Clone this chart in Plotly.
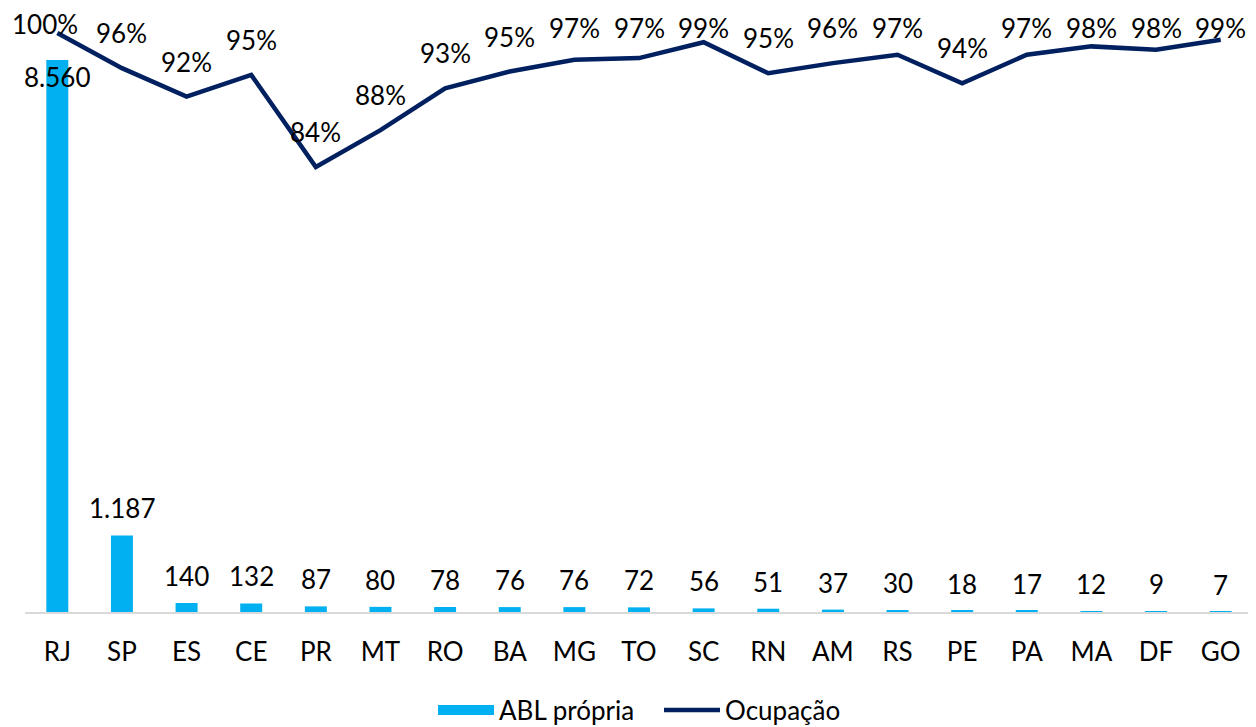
import plotly.graph_objects as go

categories = ["RJ", "SP", "ES", "CE", "PR", "MT", "RO", "BA", "MG", "TO",
              "SC", "RN", "AM", "RS", "PE", "PA", "MA", "DF", "GO"]
abl_propria = [8560, 1187, 140, 132, 87, 80, 78, 76, 76, 72,
               56, 51, 37, 30, 18, 17, 12, 9, 7]
ocupacao = [1.00, 0.958, 0.924, 0.950, 0.840, 0.884, 0.934, 0.954, 0.968, 0.970,
            0.989, 0.952, 0.964, 0.974, 0.940, 0.974, 0.984, 0.980, 0.992]

BAR_COLOR = "#00B0F0"
LINE_COLOR = "#002060"
FONT = "Lato"
FS = 26

# page has an 8px body margin; figure sized so the plot lands where the reference has it
W, H = 1248, 719
L, R, TOP, BOTTOM = 17, 3, 12, 115
PLOT_H = H - TOP - BOTTOM
PLOT_W = W - L - R
Y2_RANGE = [0.3087, 1.0155]
px_per_unit = PLOT_H / (Y2_RANGE[1] - Y2_RANGE[0])

fig = go.Figure()
fig.add_trace(go.Bar(
    x=categories, y=abl_propria, name="ABL própria",
    marker=dict(color=BAR_COLOR, line=dict(width=0)),
    width=0.34, yaxis="y", showlegend=False, legendgroup="abl",
))
# legend-only entry drawn as a wide swatch like the reference
fig.add_trace(go.Scatter(
    x=[None], y=[None], name="ABL própria", mode="lines",
    line=dict(color=BAR_COLOR, width=15), legendgroup="abl",
))
fig.add_trace(go.Scatter(
    x=categories, y=ocupacao, name="Ocupação", mode="lines",
    line=dict(color=LINE_COLOR, width=4.5), yaxis="y2",
))

annotations = []
for i, (c, v) in enumerate(zip(categories, abl_propria)):
    txt = f"{v:,}".replace(",", ".")
    annotations.append(dict(
        x=c, y=v, xref="x", yref="y", text=txt, showarrow=False,
        yanchor="middle", yshift=(-17 if i == 0 else 27),
        font=dict(family=FONT, size=FS, color="#000000"),
    ))
for i, (c, v) in enumerate(zip(categories, ocupacao)):
    point_px = TOP + (Y2_RANGE[1] - v) * px_per_unit
    shift = 9 if i == 0 else min(35, point_px - 20)
    annotations.append(dict(
        x=c, y=v, xref="x", yref="y2", text=f"{round(v * 100):d}%",
        showarrow=False, yanchor="middle", yshift=shift, borderpad=0,
        xshift=(-12 if i == 0 else 0),
        font=dict(family=FONT, size=FS, color="#000000"),
    ))

fig.update_layout(
    width=W, height=H,
    margin=dict(l=L, r=R, t=TOP, b=BOTTOM, autoexpand=False),
    paper_bgcolor="white", plot_bgcolor="white",
    font=dict(family=FONT, size=FS, color="#000000"),
    showlegend=True,
    legend=dict(orientation="h", x=(425 - L) / PLOT_W, xanchor="left",
                y=-98 / PLOT_H, yanchor="middle",
                font=dict(family=FONT, size=FS),
                traceorder="normal", itemwidth=56, tracegroupgap=0,
                entrywidth=155, entrywidthmode="pixels"),
    xaxis=dict(showgrid=False, showline=True, linecolor="#D9D9D9", linewidth=2,
               ticks="", tickfont=dict(family=FONT, size=FS), automargin=False,
               ticklabelstandoff=16, layer="below traces",
               range=[-0.5, len(categories) - 0.5]),
    yaxis=dict(range=[0, 9180], visible=False, showgrid=False, automargin=False),
    yaxis2=dict(range=Y2_RANGE, overlaying="y", visible=False,
                showgrid=False, automargin=False),
    annotations=annotations,
)

fig.write_html("out.html")
